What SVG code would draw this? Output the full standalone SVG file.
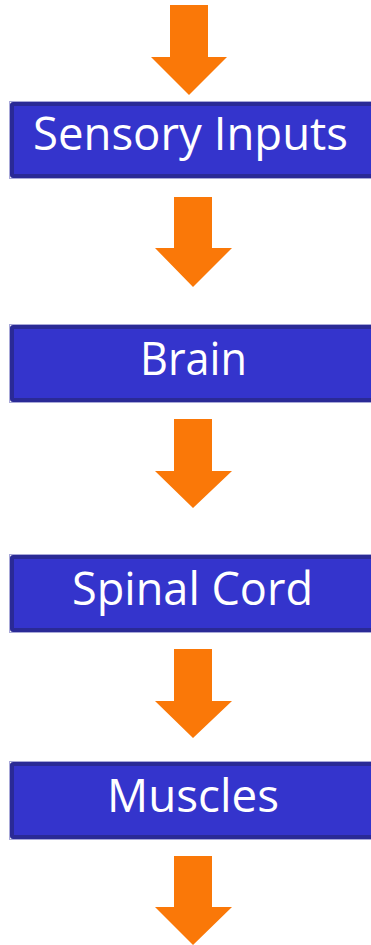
<svg xmlns="http://www.w3.org/2000/svg" width="371" height="945" viewBox="0 0 371 945">
  <style>
    .box { fill: #3434CC; stroke: #2A2A96; stroke-width: 4; }
    .halo { fill: none; stroke: #A8A8D8; stroke-width: 1; }
    .arrow { fill: #FA7808; }
    .label { font-family: "Open Sans", "Liberation Sans", sans-serif; font-size: 45px; fill: #FFFFFF; text-anchor: middle; }
  </style>
  <rect width="371" height="945" fill="#FFFFFF"/>
  <g id="connectors">
    <polygon class="arrow" points="170,5 208,5 208,57 227,57 189,95 151,57 170,57"/>
    <polygon class="arrow" points="174,197 212,197 212,248 232,248 193,287 155,248 174,248"/>
    <polygon class="arrow" points="174,419 212,419 212,471 232,471 193,508 155,471 174,471"/>
    <polygon class="arrow" points="174,649 212,649 212,701 232,701 193,738 155,701 174,701"/>
    <polygon class="arrow" points="174,856 212,856 212,907 232,907 193,945 155,907 174,907"/>
  </g>
  <g id="sensory-inputs">
    <rect class="halo" x="9.5" y="101.5" width="380" height="77"/>
    <rect class="box" x="12" y="104" width="380" height="72" rx="1"/>
    <text class="label" x="190.5" y="150" textLength="315" lengthAdjust="spacingAndGlyphs">Sensory Inputs</text>
  </g>
  <g id="brain">
    <rect class="halo" x="9.5" y="324.5" width="380" height="78"/>
    <rect class="box" x="12" y="327" width="380" height="73" rx="1"/>
    <text class="label" x="193.5" y="375" textLength="107" lengthAdjust="spacingAndGlyphs">Brain</text>
  </g>
  <g id="spinal-cord">
    <rect class="halo" x="9.5" y="554.5" width="380" height="78"/>
    <rect class="box" x="12" y="557" width="380" height="73" rx="1"/>
    <text class="label" x="192.5" y="605" textLength="241" lengthAdjust="spacingAndGlyphs">Spinal Cord</text>
  </g>
  <g id="muscles">
    <rect class="halo" x="9.5" y="761.5" width="380" height="78"/>
    <rect class="box" x="12" y="764" width="380" height="73" rx="1"/>
    <text class="label" x="193" y="812" textLength="172" lengthAdjust="spacingAndGlyphs">Muscles</text>
  </g>
</svg>
